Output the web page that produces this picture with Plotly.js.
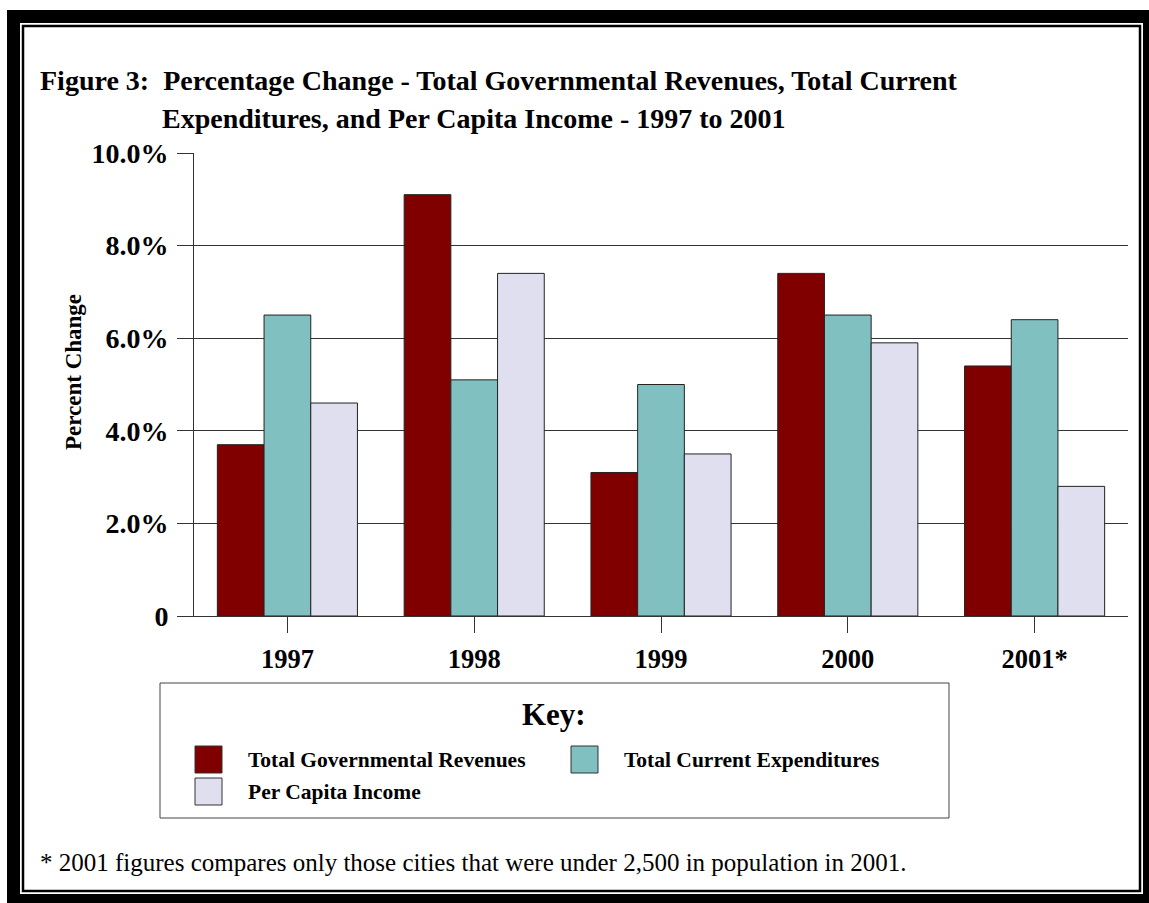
<!DOCTYPE html>
<html>
<head>
<meta charset="utf-8">
<script src="https://cdn.plot.ly/plotly-3.0.1.min.js"></script>
<style>
  html, body { margin: 0; padding: 0; background: #ffffff; }
  #chart { width: 1149px; height: 903px; }
</style>
</head>
<body>
<div id="chart"></div>
<script>
// ---- Data ----
const years = ['1997', '1998', '1999', '2000', '2001*'];
const revenues = [3.7, 9.1, 3.1, 7.4, 5.4];
const expenditures = [6.5, 5.1, 5.0, 6.5, 6.4];
const perCapitaIncome = [4.6, 7.4, 3.5, 5.9, 2.8];
const seriesNames = ['Total Governmental Revenues', 'Total Current Expenditures', 'Per Capita Income'];
const seriesColors = ['#800000', '#80C0C0', '#DFDFEF'];
const yTickVals = [0, 2, 4, 6, 8, 10];
const yTickText = ['0', '2.0%', '4.0%', '6.0%', '8.0%', '10.0%'];
const titleLine1 = 'Figure 3:\u00a0 Percentage Change - Total Governmental Revenues, Total Current';
const titleLine2 = 'Expenditures, and Per Capita Income - 1997 to 2001';
const yTitle = 'Percent Change';
const keyTitle = 'Key:';
const footnote = '* 2001 figures compares only those cities that were under 2,500 in population in 2001.';

// ---- Geometry helpers (pixel -> paper) ----
const W = 1149, H = 903;
const L = 194, R = 1128, T = 153, B = 616;
const fx = p => (p - L) / (R - L);
const fy = p => (B - p) / (B - T);

const SERIF = '"Liberation Serif", "Times New Roman", Times, serif';
const allSeries = [revenues, expenditures, perCapitaIncome];

const traces = allSeries.map((vals, i) => ({
  type: 'bar',
  name: seriesNames[i],
  x: years,
  y: vals,
  marker: { color: seriesColors[i], line: { color: '#222222', width: 1 } },
  hoverinfo: 'x+y+name',
  showlegend: false
}));

// Legend (Key) layout positions in px
const keySlots = [
  { sx: 195, sy: 746, tx: 246, ty: 760 },
  { sx: 571, sy: 746, tx: 622, ty: 760 },
  { sx: 195, sy: 778, tx: 246, ty: 792 }
];

const shapes = [
  // outer thick frame
  { type: 'rect', xref: 'paper', yref: 'paper', layer: 'below',
    x0: fx(7), x1: fx(W + 5), y0: fy(H + 5), y1: fy(10),
    fillcolor: '#000000', line: { width: 0 } },
  { type: 'rect', xref: 'paper', yref: 'paper', layer: 'below',
    x0: fx(20), x1: fx(1143), y0: fy(894), y1: fy(23),
    fillcolor: '#ffffff', line: { width: 0 } },
  { type: 'rect', xref: 'paper', yref: 'paper', layer: 'below',
    x0: fx(23), x1: fx(1140), y0: fy(891), y1: fy(26),
    fillcolor: 'rgba(0,0,0,0)', line: { color: '#000000', width: 2.5 } },
  // key box
  { type: 'rect', xref: 'paper', yref: 'paper', layer: 'above',
    x0: fx(160), x1: fx(949), y0: fy(818), y1: fy(683),
    fillcolor: 'rgba(0,0,0,0)', line: { color: '#444444', width: 1 } }
];

keySlots.forEach((s, i) => {
  shapes.push({ type: 'rect', xref: 'paper', yref: 'paper', layer: 'above',
    x0: fx(s.sx), x1: fx(s.sx + 27), y0: fy(s.sy + 27), y1: fy(s.sy),
    fillcolor: seriesColors[i], line: { color: '#333333', width: 1 } });
});

const annotations = [
  { text: titleLine1, xref: 'paper', yref: 'paper', x: fx(38), y: fy(80),
    xanchor: 'left', yanchor: 'middle', showarrow: false,
    font: { family: SERIF, size: 28, weight: 'bold', color: '#000' } },
  { text: titleLine2, xref: 'paper', yref: 'paper', x: fx(160), y: fy(118),
    xanchor: 'left', yanchor: 'middle', showarrow: false,
    font: { family: SERIF, size: 28, weight: 'bold', color: '#000' } },
  { text: yTitle, xref: 'paper', yref: 'paper', x: fx(73), y: fy(372),
    xanchor: 'center', yanchor: 'middle', textangle: -90, showarrow: false,
    font: { family: SERIF, size: 23, weight: 'bold', color: '#000' } },
  { text: keyTitle, xref: 'paper', yref: 'paper', x: fx(554), y: fy(714),
    xanchor: 'center', yanchor: 'middle', showarrow: false,
    font: { family: SERIF, size: 31, weight: 'bold', color: '#000' } },
  { text: footnote, xref: 'paper', yref: 'paper', x: fx(38), y: fy(862),
    xanchor: 'left', yanchor: 'middle', showarrow: false,
    font: { family: SERIF, size: 25, color: '#000' } }
];

keySlots.forEach((s, i) => {
  annotations.push({ text: seriesNames[i], xref: 'paper', yref: 'paper',
    x: fx(s.tx), y: fy(s.ty), xanchor: 'left', yanchor: 'middle', showarrow: false,
    font: { family: SERIF, size: 21.5, weight: 'bold', color: '#000' } });
});

const layout = {
  width: W, height: H,
  margin: { l: L, r: W - R, t: T, b: H - B, pad: 0 },
  paper_bgcolor: '#ffffff',
  plot_bgcolor: '#ffffff',
  barmode: 'group',
  bargap: 0.25,
  bargroupgap: 0,
  showlegend: false,
  font: { family: SERIF, color: '#000' },
  xaxis: {
    type: 'category',
    showline: true, linecolor: '#333333', linewidth: 1,
    ticks: 'outside', ticklen: 16, tickcolor: '#333333', tickwidth: 1,
    ticklabelstandoff: 3,
    tickfont: { family: SERIF, size: 26.5, weight: 'bold', color: '#000' },
    showgrid: false, zeroline: false, fixedrange: true
  },
  yaxis: {
    range: [0, 10],
    tickvals: yTickVals, ticktext: yTickText,
    showline: true, linecolor: '#333333', linewidth: 1,
    ticks: 'outside', ticklen: 16, tickcolor: '#333333', tickwidth: 1,
    ticklabelstandoff: 3,
    tickfont: { family: SERIF, size: 28, weight: 'bold', color: '#000' },
    showgrid: true, gridcolor: '#333333', gridwidth: 1,
    zeroline: false, fixedrange: true
  },
  shapes: shapes,
  annotations: annotations
};

Plotly.newPlot('chart', traces, layout, { displayModeBar: false });
</script>
</body>
</html>
